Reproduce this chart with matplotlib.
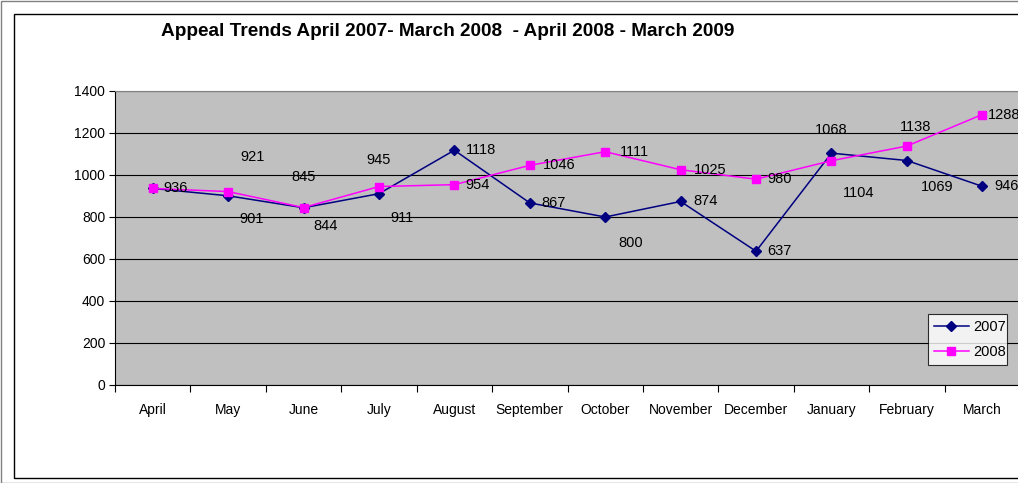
import matplotlib
matplotlib.use("Agg")
import matplotlib.pyplot as plt
from matplotlib.patches import Rectangle
from matplotlib.ticker import FixedLocator, MultipleLocator

plt.rcParams['font.family'] = ['Liberation Sans', 'DejaVu Sans']

months = ["April", "May", "June", "July", "August", "September", "October",
          "November", "December", "January", "February", "March"]
s2007 = [936, 901, 844, 911, 1118, 867, 800, 874, 637, 1104, 1069, 946]
s2008 = [936, 921, 845, 945, 954, 1046, 1111, 1025, 980, 1068, 1138, 1288]
title = "Appeal Trends April 2007- March 2008  - April 2008 - March 2009"

# label offsets (pixels) – style only
off2007 = [(23, 0), (24, -23), (22, -18), (23, -24), (27, 0), (24, 0), (25, -26),
           (25, 0), (23, 0), (27, -40), (30, -26), (24, 0)]
off2008 = [(23, 0), (24, 35), (0, 31), (0, 27), (23, 0), (29, 0), (29, 0),
           (30, 0), (24, 0), (0, 31), (9, 19), (22, 0)]
show2007 = [False] + [True] * 11

W, H = 1018, 483
fig = plt.figure(figsize=(W / 100, H / 100), dpi=100)
fig.patch.set_facecolor("white")

# outer borders
fig.patches.append(Rectangle((0.5 / W, 0.5 / H), 1.2, (H - 1) / H, transform=fig.transFigure,
                             fill=False, edgecolor="#808080", lw=1))
fig.patches.append(Rectangle((14 / W, (H - 478) / H), 1.2, (478 - 14) / H,
                             transform=fig.transFigure, fill=False, edgecolor="black", lw=1))

ax = fig.add_axes([115 / W, (H - 385) / H, 905 / W, 294 / H])
ax.set_facecolor("#C0C0C0")
x = list(range(len(months)))
ax.plot(x, s2007, color="#000080", marker="D", markersize=5, lw=1.1, label="2007", zorder=3)
ax.plot(x, s2008, color="#FF00FF", marker="s", markersize=5.5, lw=1.1, label="2008", zorder=4)

for i, v in enumerate(s2007):
    if show2007[i]:
        ax.annotate(str(v), (i, v), xytext=off2007[i], textcoords="offset pixels",
                    ha="center", va="center", fontsize=10.5, color="black", zorder=5,
                    annotation_clip=False)
for i, v in enumerate(s2008):
    ax.annotate(str(v), (i, v), xytext=off2008[i], textcoords="offset pixels",
                ha="center", va="center", fontsize=10.5, color="black", zorder=5,
                annotation_clip=False)

ax.set_xlim(-0.5, len(months) - 0.5)
ax.set_ylim(0, 1400)
ax.yaxis.set_major_locator(MultipleLocator(200))
ax.grid(axis="y", color="black", lw=0.8)
ax.set_axisbelow(True)
ax.set_xticks(x)
ax.set_xticklabels(months, fontsize=10)
ax.xaxis.set_minor_locator(FixedLocator([i - 0.5 for i in range(len(months) + 1)]))
ax.tick_params(axis="x", which="major", length=0, pad=13)
ax.tick_params(axis="x", which="minor", length=5, width=0.8, direction="out")
ax.tick_params(axis="y", length=4, width=0.8, labelsize=10, pad=3)
for s in ["top", "right"]:
    ax.spines[s].set_color("#808080")
    ax.spines[s].set_linewidth(0.8)
for s in ["left", "bottom"]:
    ax.spines[s].set_color("black")
    ax.spines[s].set_linewidth(0.8)

leg = ax.legend(loc="lower left", bbox_to_anchor=(813 / 905, 20 / 294, 79 / 905, 54 / 294),
                mode="expand", fontsize=10.5, frameon=True, fancybox=False, borderpad=0.4,
                handlelength=2.4, handletextpad=0.3, labelspacing=0.75, borderaxespad=0)
leg.get_frame().set_edgecolor("black")
leg.get_frame().set_linewidth(0.8)
leg.get_frame().set_facecolor("white")

fig.text(448 / W, 1 - 32 / H, title, ha="center", va="center", fontsize=13.7,
         fontweight="bold")

fig.savefig("out.png", dpi=100)
